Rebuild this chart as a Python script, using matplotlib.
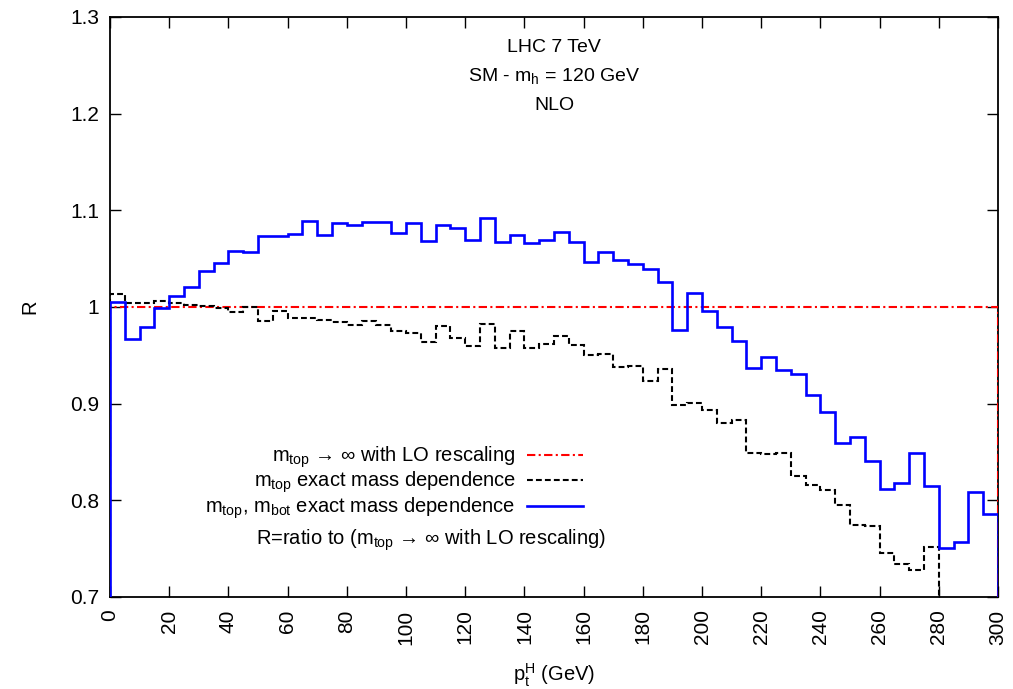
import numpy as np
import matplotlib
matplotlib.use("Agg")
import matplotlib.pyplot as plt

plt.rcParams['font.family'] = ['Liberation Sans', 'DejaVu Sans']
plt.rcParams['mathtext.fontset'] = 'custom'
plt.rcParams['mathtext.rm'] = 'Liberation Sans'
plt.rcParams['mathtext.it'] = 'Liberation Sans:italic'
plt.rcParams['mathtext.bf'] = 'Liberation Sans:bold'

# ---- data ----
bin_width = 5.0
blue_vals = [1.005, 0.967, 0.979, 0.999, 1.011, 1.021, 1.037, 1.046, 1.058, 1.057,
             1.073, 1.073, 1.076, 1.089, 1.075, 1.087, 1.085, 1.088, 1.088, 1.077,
             1.087, 1.068, 1.085, 1.082, 1.069, 1.092, 1.067, 1.075, 1.066, 1.069,
             1.078, 1.067, 1.047, 1.057, 1.049, 1.045, 1.039, 1.026, 0.976, 1.014,
             0.996, 0.979, 0.965, 0.937, 0.948, 0.935, 0.931, 0.909, 0.891, 0.859,
             0.865, 0.841, 0.812, 0.818, 0.849, 0.815, 0.751, 0.757, 0.809, 0.786]
black_vals = [1.013, 1.004, 1.004, 1.006, 1.004, 1.002, 1.001, 0.999, 0.995, 1.000,
              0.986, 0.996, 0.989, 0.989, 0.987, 0.984, 0.981, 0.986, 0.981, 0.975,
              0.973, 0.964, 0.980, 0.968, 0.960, 0.982, 0.958, 0.975, 0.958, 0.962,
              0.970, 0.961, 0.950, 0.951, 0.938, 0.939, 0.923, 0.936, 0.899, 0.901,
              0.893, 0.880, 0.883, 0.849, 0.848, 0.849, 0.825, 0.816, 0.811, 0.795,
              0.774, 0.773, 0.746, 0.734, 0.728, 0.752]
red_vals = [1.0] * 60

xticks = list(range(0, 301, 20))
yticks = [0.7, 0.8, 0.9, 1.0, 1.1, 1.2, 1.3]
ytick_labels = ['0.7', '0.8', '0.9', '1', '1.1', '1.2', '1.3']

label_red = r'm$_{\mathrm{top}}$ → ∞ with LO rescaling'
label_black = r'm$_{\mathrm{top}}$ exact mass dependence'
label_blue = r'm$_{\mathrm{top}}$, m$_{\mathrm{bot}}$ exact mass dependence'

fig = plt.figure(figsize=(10.13, 6.89), dpi=100)
ax = fig.add_axes([110/1013, 1 - 597/689, 888/1013, 580/689])

def edges_for(vals):
    return np.arange(len(vals) + 1) * bin_width

fs = 14
tfs = 15
ax.stairs(red_vals, edges_for(red_vals), baseline=0.0, color='#ff0000', lw=1.5,
          linestyle=(0, (4, 1.6, 1, 1.6)), label=label_red, zorder=3)
ax.stairs(black_vals, edges_for(black_vals), baseline=0.0, color='black', lw=1.5,
          linestyle=(0, (2.8, 1.5)), label=label_black, zorder=3)
ax.stairs(blue_vals, edges_for(blue_vals), baseline=0.0, color='#0000ff', lw=1.9,
          label=label_blue, zorder=4)

ax.set_xlim(0, 300)
ax.set_ylim(0.7, 1.3)
ax.set_xticks(xticks)
ax.set_xticklabels([str(t) for t in xticks], rotation=90, fontsize=tfs)
ax.set_yticks(yticks)
ax.set_yticklabels(ytick_labels, fontsize=tfs)
ax.tick_params(direction='in', length=8, width=1, top=True, right=True)
ax.tick_params(axis='y', pad=8)
ax.tick_params(axis='x', pad=9)
for s in ax.spines.values():
    s.set_linewidth(1.3)

ax.set_xlabel(r'p$_{\mathrm{t}}^{\mathrm{H}}$ (GeV)', fontsize=fs + 0.5, labelpad=12)
ax.set_ylabel('R', fontsize=fs + 0.5, labelpad=22)

ax.text(0.5, 0.9391, 'LHC 7 TeV', transform=ax.transAxes, ha='center', va='baseline', fontsize=fs)
ax.text(0.5, 0.8897, r'SM - m$_{\mathrm{h}}$ = 120 GeV', transform=ax.transAxes, ha='center', va='baseline', fontsize=fs)
ax.text(0.5, 0.8397, 'NLO', transform=ax.transAxes, ha='center', va='baseline', fontsize=fs)

lfs = 14.5
leg = ax.legend(loc='center right', bbox_to_anchor=(0.5327, 0.197), frameon=False,
                markerfirst=False, fontsize=lfs, handlelength=2.8, handletextpad=0.55,
                labelspacing=0.0, borderpad=0, borderaxespad=0)

ax.text(0.3615, 0.0897, r'R=ratio to (m$_{\mathrm{top}}$ → ∞ with LO rescaling)',
        transform=ax.transAxes, ha='center', va='baseline', fontsize=14.5)

fig.savefig('out.png', dpi=100)
